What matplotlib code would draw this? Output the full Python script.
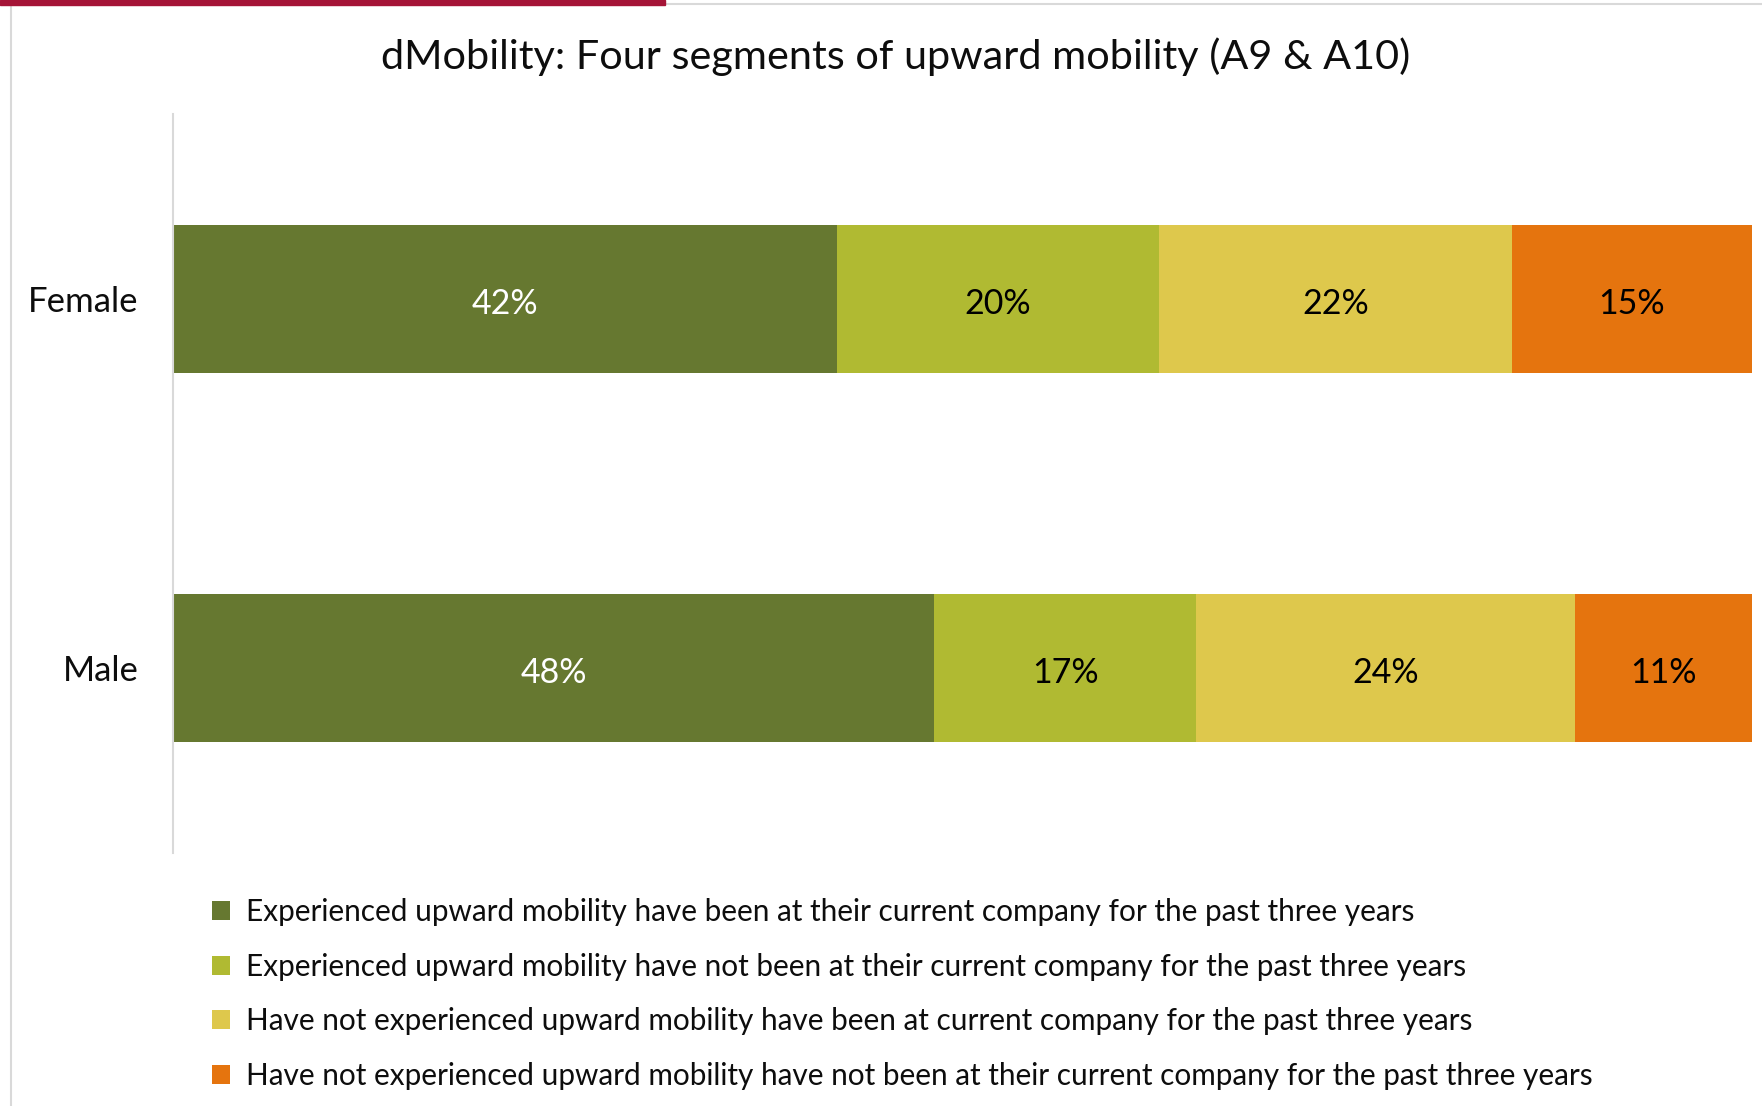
import matplotlib
matplotlib.use("Agg")
import matplotlib.pyplot as plt
from matplotlib.patches import Rectangle
from matplotlib.lines import Line2D

plt.rcParams['font.family'] = ['Lato', 'DejaVu Sans']

categories = ["Male", "Female"]
series_names = [
    "Experienced upward mobility have been at their current company for the past three years",
    "Experienced upward mobility have not been at their current company for the past three years",
    "Have not experienced upward mobility have been at current company for the past three years",
    "Have not experienced upward mobility have not been at their current company for the past three years",
]
# values per series, ordered as categories (Male, Female)
seg1 = [48.2, 42.05]
seg2 = [16.6, 20.4]
seg3 = [24.0, 22.35]
seg4 = [11.2, 15.2]
colors = ["#667830", "#B0BA32", "#DEC84C", "#E5740E"]
label_colors = ["white", "black", "black", "black"]
title = "dMobility: Four segments of upward mobility (A9 & A10)"

W, H = 1762, 1106
fig = plt.figure(figsize=(W / 100, H / 100), dpi=100)
fig.patch.set_facecolor("white")

ax = fig.add_axes([173 / W, 1 - 853 / H, (1752 - 173) / W, (853 - 114) / H])
ypos = list(range(len(categories)))
left = [0.0] * len(categories)
handles = []
for vals, col, lc, name in zip([seg1, seg2, seg3, seg4], colors, label_colors, series_names):
    bars = ax.barh(ypos, vals, left=left, height=0.4, color=col, label=name, edgecolor="none")
    handles.append(bars)
    for y, v, l in zip(ypos, vals, left):
        ax.text(l + v / 2, y - 0.005, f"{round(v):d}%", ha="center", va="center_baseline",
                color=lc, fontsize=24.5)
    left = [a + b for a, b in zip(left, vals)]

ax.set_xlim(0, 100)
ax.set_ylim(-0.5, 1.5)
ax.set_yticks(ypos)
ax.set_yticklabels(categories, fontsize=25, color="#0d0d0d")
ax.tick_params(axis="y", length=0, pad=25)
ax.set_xticks([])
for s in ["top", "right", "bottom"]:
    ax.spines[s].set_visible(False)
ax.spines["left"].set_color("#d9d9d9")
ax.spines["left"].set_linewidth(1.5)

fig.text(896 / W, 1 - 57 / H, title, ha="center", va="center", fontsize=29.8, color="#0d0d0d")

leg = fig.legend(handles=handles, labels=series_names, loc="center left",
                 bbox_to_anchor=(212 / W, 1 - 994 / H), frameon=False,
                 fontsize=21.4, handlelength=0.61, handleheight=0.61,
                 handletextpad=0.54, labelspacing=0.9, borderpad=0, borderaxespad=0)
for t in leg.get_texts():
    t.set_color("#0d0d0d")

# frame decorations
fig.patches.append(Rectangle((0, 1 - 5 / H), 665 / W, 5 / H, transform=fig.transFigure,
                             color="#A51437", zorder=5))
fig.lines.append(Line2D([665 / W, 1], [1 - 4 / H, 1 - 4 / H], transform=fig.transFigure,
                        color="#d9d9d9", lw=1.5))
fig.lines.append(Line2D([11 / W, 11 / W], [0, 1 - 5 / H], transform=fig.transFigure,
                        color="#d9d9d9", lw=1.5))

fig.savefig("out.png", dpi=100, facecolor="white")
